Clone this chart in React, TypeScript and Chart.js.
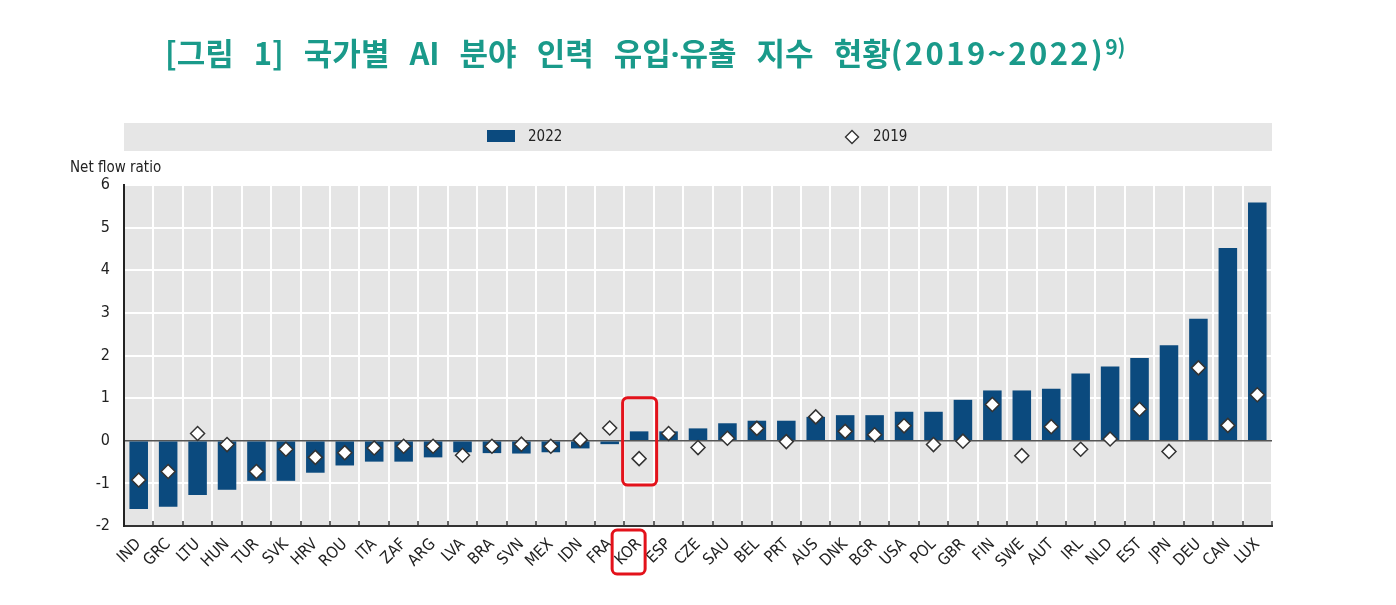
import React, { useEffect, useRef } from "react";
import { Chart, registerables } from "chart.js";

Chart.register(...registerables);

const countries = [
  "IND", "GRC", "LTU", "HUN", "TUR", "SVK", "HRV", "ROU", "ITA", "ZAF",
  "ARG", "LVA", "BRA", "SVN", "MEX", "IDN", "FRA", "KOR", "ESP", "CZE",
  "SAU", "BEL", "PRT", "AUS", "DNK", "BGR", "USA", "POL", "GBR", "FIN",
  "SWE", "AUT", "IRL", "NLD", "EST", "JPN", "DEU", "CAN", "LUX",
];

const values2022 = [
  -1.6, -1.55, -1.27, -1.15, -0.94, -0.94, -0.75, -0.58, -0.49, -0.49,
  -0.39, -0.27, -0.29, -0.3, -0.27, -0.18, -0.08, 0.22, 0.22, 0.29,
  0.41, 0.47, 0.47, 0.56, 0.6, 0.6, 0.68, 0.68, 0.96, 1.18,
  1.18, 1.22, 1.58, 1.74, 1.94, 2.24, 2.86, 4.52, 5.59,
];

const values2019 = [
  -0.92, -0.72, 0.17, -0.09, -0.72, -0.2, -0.39, -0.28, -0.17, -0.13,
  -0.13, -0.34, -0.13, -0.08, -0.13, 0.02, 0.3, -0.42, 0.17, -0.16,
  0.06, 0.29, -0.02, 0.56, 0.22, 0.14, 0.35, -0.09, -0.01, 0.85,
  -0.35, 0.33, -0.2, 0.04, 0.74, -0.25, 1.71, 0.36, 1.08,
];

const yTicks = [-2, -1, 0, 1, 2, 3, 4, 5, 6];
const legendLabels = ["2022", "2019"];
const axisTitle = "Net flow ratio";
const highlightCountry = "KOR";
const highlightRange = [1.01, -1.04];

const BAR_COLOR = "#0b4a7e";
const NARROW = "'Liberation Sans Narrow', 'DejaVu Sans Condensed', 'Liberation Sans', sans-serif";

const W = 1380;
const H = 589;

function roundRect(ctx: CanvasRenderingContext2D, x: number, y: number, w: number, h: number, r: number) {
  ctx.beginPath();
  ctx.moveTo(x + r, y);
  ctx.lineTo(x + w - r, y);
  ctx.arcTo(x + w, y, x + w, y + r, r);
  ctx.lineTo(x + w, y + h - r);
  ctx.arcTo(x + w, y + h, x + w - r, y + h, r);
  ctx.lineTo(x + r, y + h);
  ctx.arcTo(x, y + h, x, y + h - r, r);
  ctx.lineTo(x, y + r);
  ctx.arcTo(x, y, x + r, y, r);
  ctx.closePath();
}

export default function App() {
  const ref = useRef<HTMLCanvasElement | null>(null);

  useEffect(() => {
    if (!ref.current) return;

    const bgPlugin = {
      id: "bgPlugin",
      beforeDraw(chart: any) {
        const { ctx, chartArea } = chart;
        ctx.save();
        ctx.fillStyle = "#e5e5e5";
        ctx.fillRect(chartArea.left, chartArea.top, chartArea.right - chartArea.left, chartArea.bottom - chartArea.top);
        ctx.fillStyle = "#e6e6e6";
        ctx.fillRect(chartArea.left, 115, chartArea.right - chartArea.left, 28);
        ctx.restore();
      },
      afterDraw(chart: any) {
        const { ctx, scales } = chart;
        ctx.save();
        ctx.font = `15px ${NARROW}`;
        ctx.textBaseline = "middle";
        ctx.textAlign = "left";
        ctx.fillStyle = BAR_COLOR;
        ctx.fillRect(479, 122, 28, 12);
        ctx.fillStyle = "#222";
        ctx.fillText(legendLabels[0], 520, 129);
        const cx = 844, cy = 129, r = 6.5;
        ctx.beginPath();
        ctx.moveTo(cx, cy - r);
        ctx.lineTo(cx + r, cy);
        ctx.lineTo(cx, cy + r);
        ctx.lineTo(cx - r, cy);
        ctx.closePath();
        ctx.fillStyle = "#fff";
        ctx.fill();
        ctx.strokeStyle = "#333";
        ctx.lineWidth = 1.4;
        ctx.stroke();
        ctx.fillStyle = "#222";
        ctx.fillText(legendLabels[1], 865, 129);
        ctx.fillText(axisTitle, 62, 160);

        // highlight boxes around KOR
        const idx = countries.indexOf(highlightCountry);
        const kx = scales.x.getPixelForValue(idx);
        const yTop = scales.y.getPixelForValue(highlightRange[0]);
        const yBot = scales.y.getPixelForValue(highlightRange[1]);
        ctx.strokeStyle = "#e3121b";
        ctx.lineWidth = 3;
        roundRect(ctx, kx - 16.5, yTop, 34, yBot - yTop, 5);
        ctx.stroke();
        const lt = scales.x.top;
        roundRect(ctx, kx - 27, lt + 4, 33, 44, 5);
        ctx.stroke();
        ctx.restore();
      },
    };

    const chart = new Chart(ref.current, {
      type: "bar",
      data: {
        labels: countries,
        datasets: [
          {
            type: "line",
            label: legendLabels[1],
            data: values2019,
            showLine: false,
            pointStyle: "rectRot",
            pointRadius: 7,
            pointHoverRadius: 7,
            pointBackgroundColor: "#ffffff",
            pointBorderColor: "#333333",
            pointBorderWidth: 1.5,
            order: 1,
          } as any,
          {
            type: "bar",
            label: legendLabels[0],
            data: values2022,
            backgroundColor: BAR_COLOR,
            barPercentage: 0.63,
            categoryPercentage: 1.0,
            order: 2,
          },
        ],
      },
      options: {
        responsive: false,
        animation: false,
        layout: { padding: { top: 177, left: 0, right: 116, bottom: 0 } },
        plugins: {
          legend: { display: false },
          tooltip: { enabled: false },
          title: { display: false },
        },
        scales: {
          x: {
            offset: true,
            grid: {
              offset: true,
              color: "#ffffff",
              lineWidth: 2,
              drawTicks: true,
              tickLength: -5,
              tickColor: "#333333",
              tickWidth: 1.5,
            },
            border: { display: true, color: "#333333", width: 2 },
            ticks: {
              autoSkip: false,
              minRotation: 45,
              maxRotation: 45,
              padding: 14,
              color: "#222",
              font: { family: NARROW, size: 16 },
            },
            afterFit(scale: any) {
              scale.height = H - 518;
            },
          },
          y: {
            min: -2,
            max: 6,
            afterBuildTicks(scale: any) {
              scale.ticks = yTicks.map((v) => ({ value: v }));
            },
            grid: {
              color: (c: any) => (c.tick && c.tick.value === 0 ? "#555555" : "#ffffff"),
              lineWidth: (c: any) => (c.tick && c.tick.value === 0 ? 1.5 : 2),
              drawTicks: false,
            },
            border: { display: true, color: "#222222", width: 2 },
            ticks: {
              padding: 14,
              color: "#222",
              font: { family: NARROW, size: 16 },
            },
            afterFit(scale: any) {
              scale.width = 116;
            },
          },
        },
      } as any,
      plugins: [bgPlugin],
    });

    return () => chart.destroy();
  }, []);

  return (
    <div style={{ position: "relative", width: W, height: H }}>
      <div
        style={{
          position: "absolute",
          left: 157,
          top: 28,
          fontFamily: "'Noto Sans CJK KR', 'Noto Sans', sans-serif",
          fontWeight: 700,
          fontSize: 31,
          lineHeight: 1,
          color: "#1a9a8a",
          whiteSpace: "nowrap",
          wordSpacing: 13,
          zIndex: 2,
        }}
      >
        [그림 1] 국가별 AI 분야 인력 유입
        <span style={{ fontFamily: "'Noto Sans', sans-serif" }}>·</span>
        유출 지수 현황
        <span style={{ letterSpacing: 2.4 }}>(2019~2022)</span>
        <sup style={{ fontSize: 21, verticalAlign: "top", position: "relative", top: 0 }}>9)</sup>
      </div>
      <canvas ref={ref} width={W} height={H} style={{ display: "block" }} />
    </div>
  );
}
